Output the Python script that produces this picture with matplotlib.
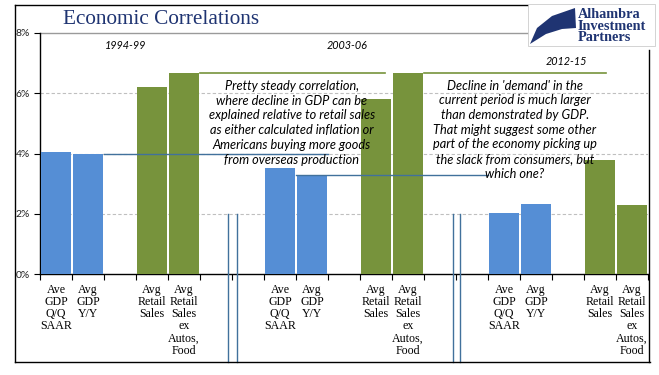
import matplotlib
matplotlib.use("Agg")
import matplotlib.pyplot as plt
from matplotlib.patches import Rectangle, Polygon
from matplotlib.lines import Line2D

# ---- data ----
periods = ["1994-99", "2003-06", "2012-15"]
categories = ["Ave\nGDP\nQ/Q\nSAAR", "Avg\nGDP\nY/Y", "Avg\nRetail\nSales", "Avg\nRetail\nSales\nex\nAutos,\nFood"]
gdp_qq = [4.05, 3.52, 2.03]
gdp_yy = [4.00, 3.29, 2.33]
retail = [6.21, 5.81, 3.79]
retail_ex = [6.68, 6.68, 2.29]
y_ticks = [0, 2, 4, 6, 8]
y_ticklabels = ["0%", "2%", "4%", "6%", "8%"]

note1 = ("Pretty steady correlation,\nwhere decline in GDP can be\nexplained relative to retail sales\n"
         "as either calculated inflation or\nAmericans buying more goods\nfrom overseas production")
note2 = ("Decline in 'demand' in the\ncurrent period is much larger\nthan demonstrated by GDP.\n"
         "That might suggest some other\npart of the economy picking up\nthe slack from consumers, but\nwhich one?")

BLUE = "#558ED5"
GREEN = "#77933C"
LINE_BLUE = "#41719C"
NAVY = "#1F3472"

W, H = 659, 375
fig = plt.figure(figsize=(W / 100, H / 100), dpi=100)
fig.patch.set_facecolor("white")

def fx(px):
    return px / W

def fy(py):
    return 1 - py / H

ax = fig.add_axes([fx(40), fy(274), fx(648) - fx(40), fy(33) - fy(274)])
ax.set_xlim(0, 19)
ax.set_ylim(0, 8)

# slot layout: per period 7 slots: blue, blue, gap, green, green, gap, gap
starts = [0, 7, 14]
xt, xl = [], []
for k, s in enumerate(starts):
    ax.bar(s + 0.5, gdp_qq[k], width=0.94, color=BLUE, zorder=3)
    ax.bar(s + 1.5, gdp_yy[k], width=0.94, color=BLUE, zorder=3)
    ax.bar(s + 3.5, retail[k], width=0.94, color=GREEN, zorder=3)
    ax.bar(s + 4.5, retail_ex[k], width=0.94, color=GREEN, zorder=3)
    xt += [s + 0.5, s + 1.5, s + 3.5, s + 4.5]
    xl += categories

# grid
for v in [2, 4, 6]:
    ax.axhline(v, color="#BFBFBF", lw=0.8, ls=(0, (3, 2)), zorder=1)
ax.plot([0, 15.3], [8, 8], color="#9A9A9A", lw=1.0, zorder=1, clip_on=False)

# connector lines
ax.plot([2, 9.0], [gdp_yy[0], gdp_yy[0]], color=LINE_BLUE, lw=1.0, zorder=4)
ax.plot([8.0, 14.0], [gdp_yy[1], gdp_yy[1]], color=LINE_BLUE, lw=1.0, zorder=4)
ax.plot([5, 10.78], [retail_ex[0], retail_ex[0]], color=GREEN, lw=1.2, zorder=4)
ax.plot([12, 17.7], [retail_ex[1], retail_ex[1]], color=GREEN, lw=1.2, zorder=4)

# vertical dividers
for xv in [5.875, 6.16, 12.9, 13.12]:
    ax.plot([xv, xv], [2, -2.93], color=LINE_BLUE, lw=1.0, zorder=4, clip_on=False)

# axes styling
for sp in ["top", "right"]:
    ax.spines[sp].set_visible(False)
ax.spines["left"].set_color("black")
ax.spines["bottom"].set_color("black")
ax.spines["left"].set_linewidth(1.0)
ax.spines["bottom"].set_linewidth(1.0)

ax.set_yticks(y_ticks)
ax.set_yticklabels(y_ticklabels, fontfamily="Lato", fontsize=7.5, color="#222222")
ax.tick_params(axis="y", length=4, width=0.8, pad=3)

ax.set_xticks(xt)
ax.set_xticklabels(xl, fontfamily="Liberation Serif", fontsize=8.6, linespacing=1.02, va="top")
ax.tick_params(axis="x", which="major", length=0, pad=7)
ax.set_xticks(range(0, 20), minor=True)
ax.tick_params(axis="x", which="minor", length=4, width=0.8, direction="out")

# period labels
ax.text(2.66, 7.6, periods[0], ha="center", va="center", fontsize=7.8, style="italic", fontfamily="Lato")
ax.text(9.6, 7.6, periods[1], ha="center", va="center", fontsize=7.8, style="italic", fontfamily="Lato")
ax.text(16.44, 7.04, periods[2], ha="center", va="center", fontsize=7.8, style="italic", fontfamily="Lato")

# notes
ax.text(7.875, 6.45, note1, ha="center", va="top", fontsize=9.2, style="italic", fontfamily="Lato",
        linespacing=1.29, zorder=5)
ax.text(14.84, 6.45, note2, ha="center", va="top", fontsize=9.2, style="italic", fontfamily="Lato",
        linespacing=1.27, zorder=5)

# title
fig.text(fx(63), fy(20), "Economic Correlations", fontsize=15.3, fontfamily="Liberation Serif",
         color=NAVY, va="center", ha="left")

# outer frame
fig.add_artist(Line2D([fx(15), fx(15)], [fy(5), fy(362)], color="black", lw=1.0))
fig.add_artist(Line2D([fx(15), fx(650)], [fy(362), fy(362)], color="black", lw=1.0))
fig.add_artist(Line2D([fx(15), fx(527)], [fy(5), fy(5)], color="black", lw=1.0))
fig.add_artist(Line2D([fx(649), fx(649)], [fy(50), fy(362)], color="black", lw=1.0))

# logo
fig.add_artist(Rectangle((fx(528), fy(46)), fx(655) - fx(528), fy(4) - fy(46),
                         facecolor="white", edgecolor="#CCCCCC", lw=0.6))
sw = [(575, 8), (552, 16), (537, 28), (530, 44), (546, 34), (562, 29), (576, 28)]
fig.add_artist(Polygon([(fx(a), fy(b)) for a, b in sw], closed=True, facecolor=NAVY, edgecolor="none"))
fig.text(fx(578), fy(26), "Alhambra\nInvestment\nPartners", fontsize=10.3, fontfamily="Liberation Serif",
         color=NAVY, va="center", ha="left", linespacing=0.82, fontweight="bold")

fig.savefig("out.png", dpi=100)
